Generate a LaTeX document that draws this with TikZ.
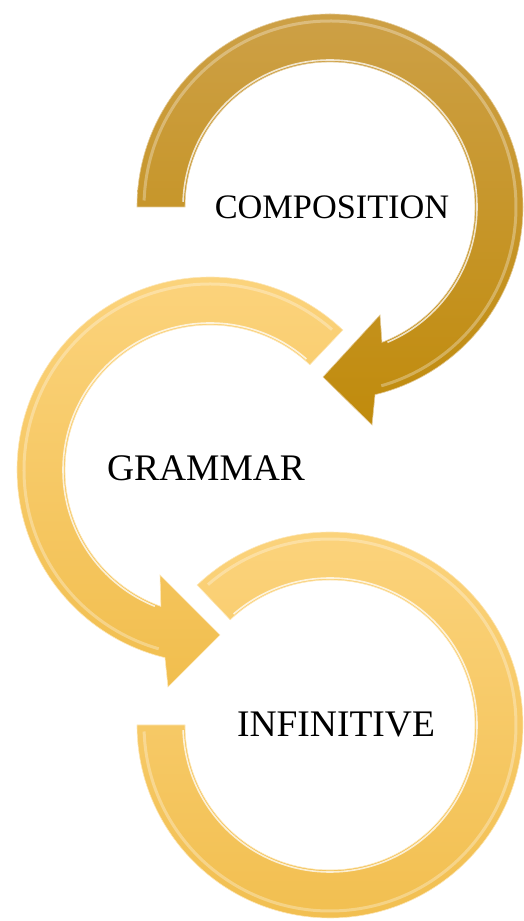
\documentclass[tikz,border=0pt]{standalone}
\usepackage{fontspec}
\setmainfont{Liberation Serif}
\definecolor{goldtop}{HTML}{CDA046}
\definecolor{goldbot}{HTML}{C08B0C}
\definecolor{lighttop}{HTML}{FCD47E}
\definecolor{lightbot}{HTML}{F1BE4E}
\begin{document}
\begin{tikzpicture}[x=1pt,y=1pt,
  darkring/.style={top color=goldtop, bottom color=goldbot, draw=goldtop!55!white, line width=0.6pt},
  lightring/.style={top color=lighttop, bottom color=lightbot, draw=lighttop!55!white, line width=0.6pt},
  shine/.style={white, line width=1.6pt, opacity=0.75},
  glow/.style={white, line width=3pt, opacity=0.3},
  ringtext/.style={font=\fontsize{37.5}{42}\selectfont, text=black}]
\useasboundingbox (0,0) rectangle (523,921);

\coordinate (c1) at (330,714);
\coordinate (c2) at (210,451);
\coordinate (c3) at (330,196);
\coordinate (h1back) at (372,496);
\coordinate (h1tip) at (323,544);
\coordinate (h1top) at (380,606);
\coordinate (h2back) at (168,234);
\coordinate (h2tip) at (220,286);
\coordinate (h2top) at (160,346);

\draw[lightring] ([shift={(133.5:193)}]c3) arc[start angle=133.5, end angle=-180, radius=193] -- ([shift={(-180:145)}]c3) arc[start angle=-180, end angle=133.5, radius=145] -- cycle;
\draw[shine] ([shift={(-178:147)}]c3) arc[start angle=-178, end angle=131, radius=147];
\draw[glow] ([shift={(-178:186)}]c3) arc[start angle=-178, end angle=131, radius=186];

\draw[lightring] ([shift={(46.5:193)}]c2) arc[start angle=46.5, end angle=256.5, radius=193] -- (h2back) -- (h2tip) -- (h2top) -- ([shift={(250.2:145)}]c2) arc[start angle=250.2, end angle=46.5, radius=145] -- cycle;
\draw[shine] ([shift={(49:147)}]c2) arc[start angle=49, end angle=248, radius=147];
\draw[glow] ([shift={(49:186)}]c2) arc[start angle=49, end angle=254, radius=186];

\draw[darkring] ([shift={(180:193)}]c1) arc[start angle=180, end angle=-76.5, radius=193] -- (h1back) -- (h1tip) -- (h1top) -- ([shift={(-69:145)}]c1) arc[start angle=-69, end angle=180, radius=145] -- cycle;
\draw[shine] ([shift={(178:147)}]c1) arc[start angle=178, end angle=-67, radius=147];
\draw[glow] ([shift={(178:186)}]c1) arc[start angle=178, end angle=-74, radius=186];

\node[ringtext, font=\fontsize{34.3}{40}\selectfont] (t1) at (332,714) {COMPOSITION};
\node[ringtext] (t2) at (206,453) {GRAMMAR};
\node[ringtext] (t3) at (336,196) {INFINITIVE};
\end{tikzpicture}
\end{document}
